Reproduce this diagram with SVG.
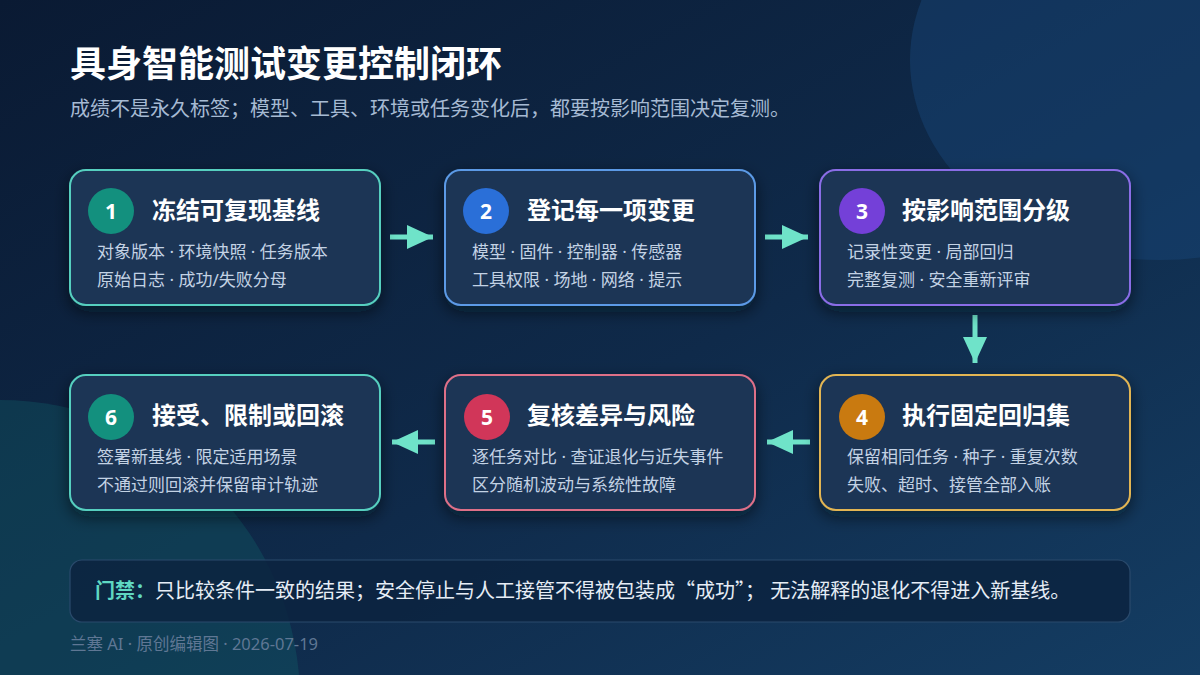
<svg xmlns="http://www.w3.org/2000/svg" width="1200" height="675" viewBox="0 0 1200 675">
  <defs>
    <linearGradient id="bg" x1="0" y1="0" x2="1" y2="1">
      <stop offset="0" stop-color="#0a1a33"/>
      <stop offset="0.55" stop-color="#0f2a4a"/>
      <stop offset="1" stop-color="#143d63"/>
    </linearGradient>
    <filter id="shadow" x="-10%" y="-10%" width="120%" height="130%">
      <feDropShadow dx="0" dy="6" stdDeviation="8" flood-color="#020a18" flood-opacity="0.55"/>
    </filter>
    <marker id="head" viewBox="0 0 26 24" refX="26" refY="12" markerWidth="26" markerHeight="24" markerUnits="userSpaceOnUse" orient="auto">
      <path d="M0,0 L26,12 L0,24 Z" fill="#6fe3c9"/>
    </marker>
    <style>
      text { font-family: "Noto Sans", "Noto Sans CJK SC", "Liberation Sans", sans-serif; }
      .cjk { font-family: "Noto Sans CJK SC", sans-serif; }
      .box { fill: #1a3455; stroke-width: 2; filter: url(#shadow); }
      .num { font-size: 21px; font-weight: 700; fill: #ffffff; text-anchor: middle; }
      .ttl { font-size: 24px; font-weight: 700; fill: #ffffff; }
      .body { font-size: 17px; fill: #c3d2e4; }
      .conn { stroke: #6fe3c9; stroke-width: 5; fill: none; marker-end: url(#head); }
    </style>
  </defs>

  <rect width="1200" height="675" fill="url(#bg)"/>
  <ellipse cx="1160" cy="60" rx="250" ry="200" fill="#18487a" opacity="0.45"/>
  <circle cx="0" cy="700" r="300" fill="#12606a" opacity="0.35"/>

  <text x="70" y="77" font-size="36" font-weight="700" fill="#ffffff">具身智能测试变更控制闭环</text>
  <text x="70" y="116" font-size="20" fill="#a6bad3">成绩不是永久标签；模型、工具、环境或任务变化后，都要按影响范围决定复测。</text>

  <g id="connectors">
    <line class="conn" x1="390" y1="237" x2="433" y2="237"/>
    <line class="conn" x1="765" y1="237" x2="808" y2="237"/>
    <line class="conn" x1="975" y1="315" x2="975" y2="363"/>
    <line class="conn" x1="810" y1="442" x2="767" y2="442"/>
    <line class="conn" x1="435" y1="442" x2="392" y2="442"/>
  </g>

  <g id="node1">
    <rect class="box" x="70" y="170" width="310" height="135" rx="16" stroke="#56cfbf"/>
    <circle cx="111" cy="211" r="23" fill="#13907e"/>
    <text class="num" x="111" y="218.5">1</text>
    <text class="ttl" x="152" y="219">冻结可复现基线</text>
    <text class="body" x="97" y="258">对象版本 · 环境快照 · 任务版本</text>
    <text class="body" x="97" y="286">原始日志 · 成功/失败分母</text>
  </g>

  <g id="node2">
    <rect class="box" x="445" y="170" width="310" height="135" rx="16" stroke="#5b9ae6"/>
    <circle cx="486" cy="211" r="23" fill="#2a6fd8"/>
    <text class="num" x="486" y="218.5">2</text>
    <text class="ttl" x="527" y="219">登记每一项变更</text>
    <text class="body" x="472" y="258">模型 · 固件 · 控制器 · 传感器</text>
    <text class="body" x="472" y="286">工具权限 · 场地 · 网络 · 提示</text>
  </g>

  <g id="node3">
    <rect class="box" x="820" y="170" width="310" height="135" rx="16" stroke="#8a6de6"/>
    <circle cx="862" cy="211" r="23" fill="#7440d8"/>
    <text class="num" x="862" y="218.5">3</text>
    <text class="ttl" x="902" y="219">按影响范围分级</text>
    <text class="body" x="847" y="258">记录性变更 · 局部回归</text>
    <text class="body" x="847" y="286">完整复测 · 安全重新评审</text>
  </g>

  <g id="node4">
    <rect class="box" x="820" y="375" width="310" height="135" rx="16" stroke="#e2b553"/>
    <circle cx="862" cy="417" r="23" fill="#c97a10"/>
    <text class="num" x="862" y="424.5">4</text>
    <text class="ttl" x="902" y="424">执行固定回归集</text>
    <text class="body" x="847" y="463">保留相同任务 · 种子 · 重复次数</text>
    <text class="body" x="847" y="491">失败、超时、接管全部入账</text>
  </g>

  <g id="node5">
    <rect class="box" x="445" y="375" width="310" height="135" rx="16" stroke="#de6f88"/>
    <circle cx="487" cy="417" r="23" fill="#d13659"/>
    <text class="num" x="487" y="424.5">5</text>
    <text class="ttl" x="527" y="424">复核差异与风险</text>
    <text class="body" x="472" y="463">逐任务对比 · 查证退化与近失事件</text>
    <text class="body" x="472" y="491">区分随机波动与系统性故障</text>
  </g>

  <g id="node6">
    <rect class="box" x="70" y="375" width="310" height="135" rx="16" stroke="#56cfbf"/>
    <circle cx="111" cy="417" r="23" fill="#13907e"/>
    <text class="num" x="111" y="424.5">6</text>
    <text class="ttl" x="152" y="424">接受、限制或回滚</text>
    <text class="body" x="97" y="463">签署新基线 · 限定适用场景</text>
    <text class="body" x="97" y="491">不通过则回滚并保留审计轨迹</text>
  </g>

  <g id="gate">
    <rect x="70" y="560" width="1060" height="62" rx="12" fill="#0c2340" fill-opacity="0.85" stroke="#2a4a6c" stroke-width="1.2"/>
    <text x="95" y="598" font-size="20" fill="#e6edf6"><tspan font-weight="700" fill="#5fd8c2">门禁：</tspan>只比较条件一致的结果；安全停止与人工接管不得被包装成<tspan class="cjk">“成功”；</tspan> 无法解释的退化不得进入新基线。</text>
  </g>

  <text x="70" y="650" font-size="16.5" fill="#5f7794">兰塞 AI · 原创编辑图 · 2026-07-19</text>
</svg>
